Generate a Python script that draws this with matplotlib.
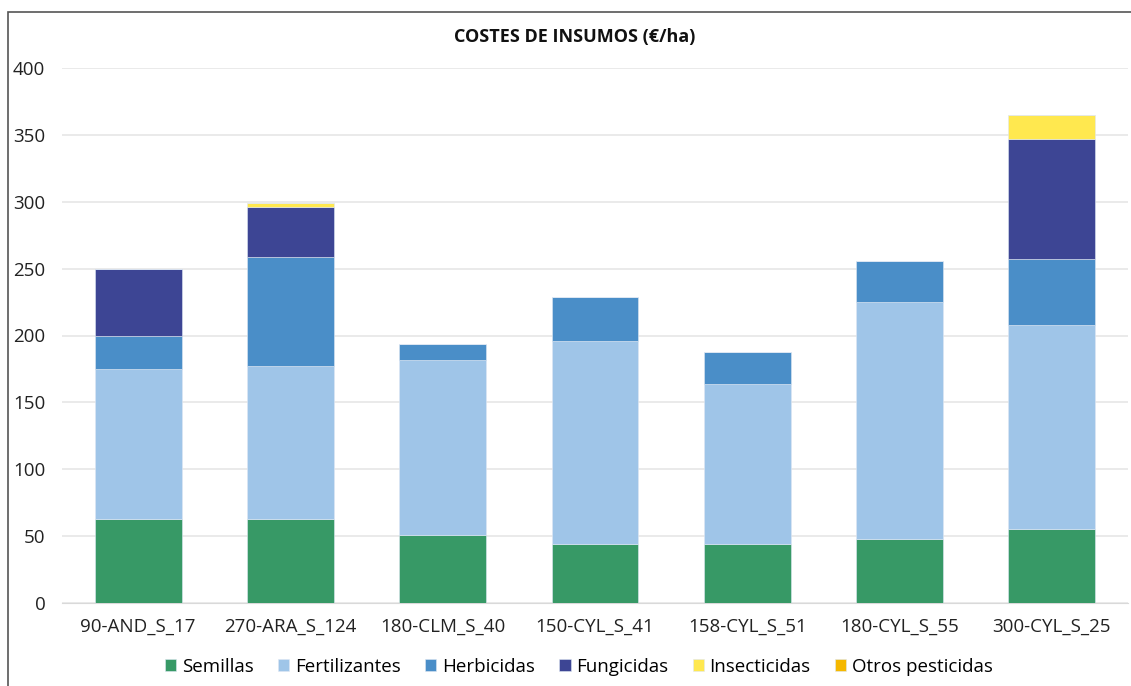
import matplotlib
matplotlib.use("Agg")
import matplotlib.pyplot as plt
from matplotlib.patches import Rectangle
import numpy as np

plt.rcParams['font.family'] = ['Open Sans', 'DejaVu Sans']

categories = ['90-AND_S_17', '270-ARA_S_124', '180-CLM_S_40', '150-CYL_S_41',
              '158-CYL_S_51', '180-CYL_S_55', '300-CYL_S_25']

semillas = [63, 63, 51, 44, 44, 48, 55]
fertilizantes = [112, 114, 131, 152, 120, 177, 153]
herbicidas = [25, 82, 12, 33, 24, 31, 49]
fungicidas = [50, 37, 0, 0, 0, 0, 90]
insecticidas = [0, 3, 0, 0, 0, 0, 18]
otros_pesticidas = [0, 0, 0, 0, 0, 0, 0]

series = [
    ('Semillas', semillas, '#379966'),
    ('Fertilizantes', fertilizantes, '#9fc5e8'),
    ('Herbicidas', herbicidas, '#4a8ec8'),
    ('Fungicidas', fungicidas, '#3d4594'),
    ('Insecticidas', insecticidas, '#ffe84f'),
    ('Otros pesticidas', otros_pesticidas, '#f5b800'),
]

fig = plt.figure(figsize=(11.31, 6.86), dpi=100)
ax = fig.add_axes([62 / 1131, 1 - 603 / 686, (1128 - 62) / 1131, (603 - 68) / 686])

# chart border (only top and left visible in the crop)
fig.patches.append(Rectangle((8 / 1131, -0.1), 1.2, 1 - 12 / 686 + 0.1,
                             transform=fig.transFigure, fill=False,
                             edgecolor='#555555', linewidth=1.2))

x = np.arange(len(categories))
bottom = np.zeros(len(categories))
for name, vals, color in series:
    ax.bar(x, vals, 0.57, bottom=bottom, color=color, label=name,
           edgecolor='#dfe8f3', linewidth=0.4, zorder=3)
    bottom += np.array(vals)

ax.set_xlim(-0.5, len(categories) - 0.5)
ax.set_ylim(0, 400)
ax.set_yticks(range(0, 401, 50))
ax.yaxis.grid(True, color='#e6e6e6', linewidth=1.2, zorder=0)
ax.set_xticks(x)
ax.set_xticklabels(categories)
ax.tick_params(axis='both', length=0, labelsize=13.5, colors='#222222')
ax.tick_params(axis='x', pad=11)
ax.tick_params(axis='y', pad=12)
for s in ax.spines.values():
    s.set_visible(False)
ax.spines['bottom'].set_visible(True)
ax.spines['bottom'].set_color('#d9d9d9')

fig.text(575 / 1131, 1 - 37 / 686, 'COSTES DE INSUMOS (€/ha)', ha='center', va='center',
         fontsize=13, fontweight='bold', color='#111111')

fig.legend(loc='center', bbox_to_anchor=(579 / 1131, 1 - 667 / 686), ncol=6, frameon=False,
           fontsize=13.5, handlelength=0.6, handleheight=0.6, handletextpad=0.3,
           columnspacing=1.3)

fig.savefig('out.png', dpi=100)
